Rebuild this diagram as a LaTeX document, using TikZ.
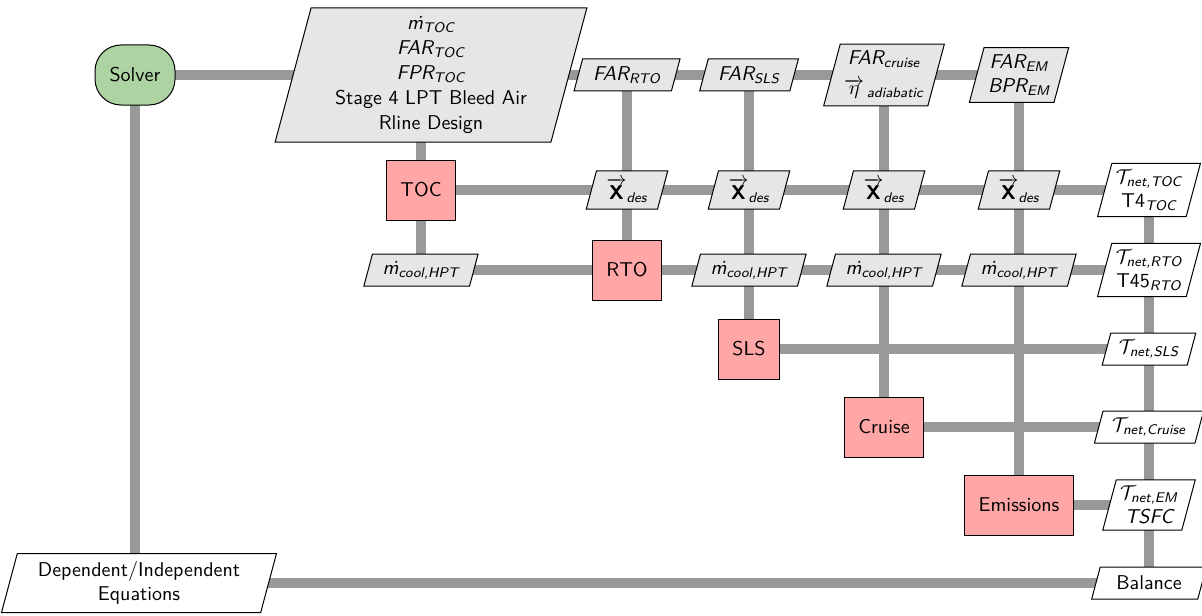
\documentclass[tikz,border=0pt]{standalone}
\usepackage{amsmath}
\usetikzlibrary{shapes.geometric,backgrounds}
\renewcommand{\familydefault}{\sfdefault}
\definecolor{linegray}{RGB}{153,153,153}
\definecolor{fnred}{RGB}{255,166,166}
\definecolor{solvgreen}{RGB}{173,211,163}
\definecolor{datagray}{RGB}{230,230,230}
\tikzset{
  base/.style={draw=black, line width=0.5pt, font=\sffamily, align=center},
  solverbox/.style={base, fill=solvgreen, rounded corners=13pt, minimum width=40pt, minimum height=30pt, inner sep=2pt},
  funcbox/.style={base, fill=fnred, minimum height=30pt, minimum width=30pt, inner xsep=7pt},
  databox/.style={base, fill=datagray, trapezium, trapezium left angle=75, trapezium right angle=105, inner xsep=2pt, inner ysep=2.5pt, minimum height=16pt},
  xdbox/.style={databox, inner xsep=5pt, inner ysep=3.5pt},
  outbox/.style={databox, fill=white},
  flow/.style={draw=linegray, line width=5pt},
}
\begin{document}
\begin{tikzpicture}[x=0.5pt,y=-0.5pt]
\useasboundingbox (0,0) rectangle (1202,615);
% solver and inputs
\node[solverbox] (solver) at (135,75) {Solver};
\node[databox, inner xsep=12pt, inner ysep=4pt] (inp) at (431,75) {$\textit{\.m}_{\textit{TOC}}$\\[0.6pt] $\textit{FAR}_{\textit{TOC}}$\\[0.6pt] $\textit{FPR}_{\textit{TOC}}$\\[0.6pt] Stage 4 LPT Bleed Air\\[0.6pt] Rline Design};
\node[databox] (farrto) at (627,75) {$\textit{FAR}_{\textit{RTO}}$};
\node[databox] (farsls) at (749,75) {$\textit{FAR}_{\textit{SLS}}$};
\node[databox, inner ysep=3.5pt] (farcr) at (884,75) {$\textit{FAR}_{\textit{cruise}}$\\[3pt] $\overrightarrow{\eta}_{\,\textit{adiabatic}}$};
\node[databox, inner ysep=3.5pt] (farem) at (1019,75) {$\textit{FAR}_{\textit{EM}}$\\ $\textit{BPR}_{\textit{EM}}$};
% row TOC
\node[funcbox] (toc) at (421,190) {TOC};
\node[xdbox] (xd1) at (627,190) {$\overrightarrow{\textbf{X}}_{\textit{des}}$};
\node[xdbox] (xd2) at (749,190) {$\overrightarrow{\textbf{X}}_{\textit{des}}$};
\node[xdbox] (xd3) at (884,190) {$\overrightarrow{\textbf{X}}_{\textit{des}}$};
\node[xdbox] (xd4) at (1019,190) {$\overrightarrow{\textbf{X}}_{\textit{des}}$};
\node[outbox, inner ysep=3pt] (o1) at (1149,190) {$\mathcal{T}_{\textit{net,TOC}}$\\ $\textup{T4}_{\textit{TOC}}$};
% row RTO
\node[databox] (mc0) at (421,270) {$\textit{\.m}_{\textit{cool,HPT}}$};
\node[funcbox] (rto) at (627,270) {RTO};
\node[databox] (mc1) at (749,270) {$\textit{\.m}_{\textit{cool,HPT}}$};
\node[databox] (mc2) at (884,270) {$\textit{\.m}_{\textit{cool,HPT}}$};
\node[databox] (mc3) at (1019,270) {$\textit{\.m}_{\textit{cool,HPT}}$};
\node[outbox, inner ysep=3pt] (o2) at (1149,270) {$\mathcal{T}_{\textit{net,RTO}}$\\ $\textup{T45}_{\textit{RTO}}$};
% lower rows
\node[funcbox] (sls) at (749,349) {SLS};
\node[outbox] (o3) at (1149,349) {$\mathcal{T}_{\textit{net,SLS}}$};
\node[funcbox] (cruise) at (884,427) {Cruise};
\node[outbox] (o4) at (1149,427) {$\mathcal{T}_{\textit{net,Cruise}}$};
\node[funcbox] (em) at (1019,505) {Emissions};
\node[outbox, inner ysep=3pt] (o5) at (1149,505) {$\mathcal{T}_{\textit{net,EM}}$\\ $\textit{TSFC}$};
\node[outbox, inner xsep=4pt, minimum height=29.5pt] (dep) at (139,583) {Dependent/Independent\\ Equations};
\node[outbox] (bal) at (1149,583) {Balance};
% connectors
\begin{pgfonlayer}{background}
\draw[flow] (solver.center) -- (solver.center |- dep.center);
\draw[flow] (dep.center) -- (bal.center);
\draw[flow] (solver.center) -- (farem.center);
\draw[flow] (toc.center |- inp.center) -- (toc.center);
\draw[flow] (toc.center) -- (mc0.center);
\draw[flow] (toc.center) -- (o1.center);
\draw[flow] (mc0.center) -- (o2.center);
\draw[flow] (farrto.center) -- (rto.center);
\draw[flow] (farsls.center) -- (sls.center);
\draw[flow] (farcr.center) -- (cruise.center);
\draw[flow] (farem.center) -- (em.center);
\draw[flow] (sls.center) -- (o3.center);
\draw[flow] (cruise.center) -- (o4.center);
\draw[flow] (em.center) -- (o5.center);
\draw[flow] (o1.center) -- (bal.center);
\end{pgfonlayer}
\end{tikzpicture}
\end{document}
